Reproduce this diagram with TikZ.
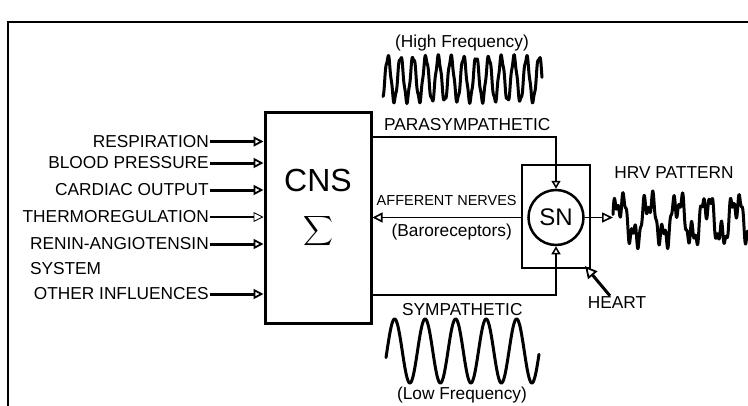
\documentclass[tikz,border=0pt]{standalone}
\usepackage{amsmath}
\usepackage{fontspec}
\setmainfont{Liberation Sans}
\usepackage{tikz}
\usetikzlibrary{arrows.meta,calc,positioning}

\begin{document}
\begin{tikzpicture}[x=1pt,y=-1pt,
  lbl/.style={font=\fontsize{17.3}{19}\selectfont,inner sep=1pt},
  feed/.style={-{Triangle[open,length=10pt,width=10pt,line width=0pt 0.6]},line width=3pt},
  nerve/.style={-{Triangle[open,length=8pt,width=9pt,line width=0pt 0.6]},line width=2.5pt},
  wave/.style={line width=3pt,line join=round,line cap=round}]
\useasboundingbox (0,0) rectangle (748,405);
% frame
\draw[line width=2.5pt] (8,410) -- (8,22) -- (752,22);

% central nervous system
\node[draw,line width=3pt,minimum width=106pt,minimum height=211pt] (cns) at (318,217.5) {};
\node[font=\fontsize{32}{34}\selectfont,inner sep=0pt] (cnstext) at (318,180) {CNS};
\node[font=\fontsize{20}{24}\selectfont,inner sep=0pt] (sigma) at (318,231) {$\displaystyle\sum$};

% inputs
\node[lbl,anchor=east] (resp) at (210,141.5) {RESPIRATION\hspace{7pt}};
\node[lbl,anchor=east] (bp) at (210,163) {BLOOD PRESSURE};
\node[lbl,anchor=east] (co) at (210,190) {CARDIAC OUTPUT};
\node[lbl,anchor=east] (thermo) at (210,217) {THERMOREGULATION};
\node[lbl,anchor=east] (renin) at (210,244) {RENIN-ANGIOTENSIN};
\node[lbl,below=10pt of renin.south west,anchor=north west] (system) {SYSTEM};
\node[lbl,anchor=east] (other) at (210,294) {OTHER INFLUENCES};
\foreach \src in {resp,bp,co,renin,other}
  \draw[feed] (\src.east) -- (\src.east -| cns.west);
\draw[feed,line width=1.5pt] (thermo.east) -- (thermo.east -| cns.west);

% heart and sinus node
\node[draw,line width=2.2pt,minimum width=68pt,minimum height=103pt] (heart) at (556,216.5) {};
\node[draw,circle,line width=2.5pt,minimum size=55pt,inner sep=0pt,font=\fontsize{24}{26}\selectfont] (sn) at (556,217.5) {SN};

% efferent and afferent paths
\coordinate (para) at (556,137);
\coordinate (symp) at (556,295);
\draw[nerve] (cns.east |- para) -| (sn.north)
  node[pos=0.25,above=4pt,lbl,xshift=3pt] {PARASYMPATHETIC};
\draw[nerve] (cns.east |- symp) -| (sn.south)
  node[pos=0.25,below=6pt,lbl,xshift=-2pt] {SYMPATHETIC};
\draw[-{Triangle[open,length=10pt,width=10pt]},line width=1.6pt] (heart.west |- sn.west) -- (cns.east |- sn.west)
  node[midway,above=10pt,lbl,font=\fontsize{14.5}{16}\selectfont] {AFFERENT NERVES}
  node[midway,below=5pt,lbl,xshift=5pt] {(Baroreceptors)};

% output
\coordinate (hrv) at (613,217.5);
\draw[-{Triangle[open,length=11pt,width=10pt]},line width=1.6pt] (sn.east) -- (hrv);
\node[lbl] (hrvtext) at (674,173) {HRV PATTERN};
\node[lbl] (hearttext) at (617,303) {HEART};
\draw[-{Triangle[open,length=12pt,width=12pt,line width=0pt 0.6]},line width=3pt] ([xshift=-7pt]hearttext.north) -- ([xshift=-6pt,yshift=3pt]heart.south east);

% waves
\node[lbl] (hftext) at (462,43) {(High Frequency)};
\draw[wave] plot[domain=0:159,samples=500] ({383+\x},{79-22*cos((\x-5)*28.571)+2.5*sin(mod(\x,3.3)*109.09)});
\draw[wave] plot[domain=0:153,samples=300] ({386+\x},{351-32*sin((\x-1)*11.803)});
\node[lbl] (lftext) at (462,395) {(Low Frequency)};
\draw[wave] plot[domain=0:140,samples=500] ({613+\x},{220-18*sin(\x*12.414)-11*sin(\x*37.113+30)-6*sin(\x*83.72)});
\end{tikzpicture}
\end{document}
